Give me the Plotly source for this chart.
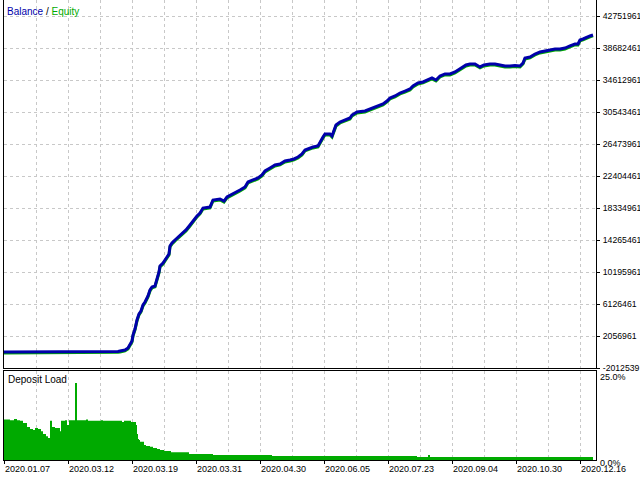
import plotly.graph_objects as go

# ---- data (deal index along the tester's x axis) ----
deal_index = [0, 56, 96, 114, 116, 121, 124, 126, 128, 129,
              131, 133, 135, 137, 139, 141, 144, 146, 148, 151,
              153, 155, 156, 159, 163, 165, 166, 168, 171, 173,
              176, 180, 182, 186, 189, 193, 196, 199, 206, 209,
              216, 220, 223, 229, 236, 241, 244, 249, 254, 258,
              261, 266, 271, 276, 281, 286, 290, 294, 298, 301,
              306, 309, 314, 316, 319, 321, 326, 328, 330, 332,
              336, 341, 346, 348, 353, 361, 368, 374, 379, 383,
              386, 391, 396, 401, 406, 409, 414, 419, 424, 428,
              432, 436, 441, 446, 451, 454, 458, 462, 466, 471,
              476, 480, 486, 491, 496, 501, 506, 511, 516, 519,
              521, 526, 531, 536, 541, 546, 551, 556, 561, 566,
              571, 574, 576, 579, 583, 586, 589]

# balance in millions
balance_m = [0.01, 0.01, 0.05, 0.10, 0.15, 0.28, 0.53, 0.91, 1.42, 2.18,
             2.95, 4.09, 4.86, 5.24, 6.00, 6.38, 7.14, 7.91, 8.29, 8.42,
             9.18, 10.20, 10.96, 11.34, 12.10, 12.49, 13.50, 13.88, 14.27, 14.52,
             14.77, 15.28, 15.54, 16.17, 16.68, 17.32, 17.70, 18.33, 18.46, 19.35,
             19.48, 19.22, 19.73, 20.11, 20.62, 21.01, 21.64, 21.90, 22.15, 22.53,
             23.04, 23.42, 23.80, 23.93, 24.31, 24.44, 24.57, 24.82, 25.20, 25.71,
             25.97, 26.09, 26.22, 26.73, 27.36, 27.75, 27.75, 27.49, 28.13, 28.89,
             29.27, 29.53, 29.78, 30.16, 30.54, 30.67, 31.05, 31.31, 31.56, 31.94,
             32.32, 32.58, 32.96, 33.21, 33.47, 33.85, 34.23, 34.36, 34.61, 34.87,
             34.61, 35.12, 35.38, 35.38, 35.63, 35.88, 36.14, 36.52, 36.65, 36.65,
             36.27, 36.52, 36.65, 36.65, 36.52, 36.39, 36.39, 36.46, 36.39, 36.77,
             37.41, 37.54, 37.92, 38.17, 38.30, 38.43, 38.55, 38.55, 38.68, 38.94,
             39.19, 39.19, 39.70, 39.83, 40.08, 40.21, 40.34]

# equity in millions
equity_m = [-0.11, -0.11, -0.07, -0.02, 0.03, 0.16, 0.41, 0.79, 1.30, 2.06,
            2.83, 3.97, 4.74, 5.12, 5.88, 6.26, 7.02, 7.79, 8.17, 8.30,
            9.06, 10.08, 10.84, 11.22, 11.98, 12.37, 13.38, 13.76, 14.15, 14.40,
            14.65, 15.16, 15.42, 16.05, 16.56, 17.20, 17.58, 18.21, 18.34, 19.23,
            19.36, 19.10, 19.61, 19.99, 20.50, 20.89, 21.52, 21.78, 22.03, 22.41,
            22.92, 23.30, 23.68, 23.81, 24.19, 24.32, 24.45, 24.70, 25.08, 25.59,
            25.85, 25.97, 26.10, 26.61, 27.24, 27.63, 27.63, 27.37, 28.01, 28.77,
            29.15, 29.41, 29.66, 30.04, 30.42, 30.55, 30.93, 31.19, 31.44, 31.82,
            32.20, 32.46, 32.84, 33.09, 33.35, 33.73, 34.11, 34.24, 34.49, 34.75,
            34.49, 35.00, 35.26, 35.26, 35.51, 35.76, 36.02, 36.40, 36.53, 36.53,
            36.15, 36.40, 36.53, 36.53, 36.40, 36.27, 36.27, 36.34, 36.27, 36.65,
            37.29, 37.42, 37.80, 38.05, 38.18, 38.31, 38.43, 38.43, 38.56, 38.82,
            39.07, 39.07, 39.58, 39.71, 39.96, 40.09, 40.22]

load_index = [0, 6, 10, 13, 16, 19, 23, 26, 29, 31,
              34, 37, 39, 42, 44, 46, 48, 51, 56, 57,
              61, 63, 65, 71, 73, 82, 84, 97, 99, 118,
              120, 127, 132, 133, 134, 135, 136, 140, 142, 146,
              149, 153, 156, 160, 167, 185, 209, 268, 413, 424,
              426, 589]
deposit_load = [11.4, 11.2, 11.5, 11.2, 11.0, 10.4, 9.3, 8.7, 8.4, 9.0,
                8.7, 8.1, 7.3, 6.7, 6.2, 11.0, 9.3, 9.0, 8.1, 11.0,
                11.2, 9.8, 11.2, 21.6, 11.2, 11.4, 11.0, 11.2, 11.0, 10.7,
                11.0, 10.7, 9.8, 7.3, 5.9, 5.6, 5.1, 4.2, 3.9, 3.7,
                3.4, 3.1, 2.8, 2.5, 2.2, 1.7, 1.4, 1.1, 0.84, 1.4,
                0.84, 0.84]

balance_ticks = [-2012539, 2056961, 6126461, 10195961, 14265461, 18334961,
                 22404461, 26473961, 30543461, 34612961, 38682461, 42751961]
date_tick_pos = [0, 64, 128, 192, 256, 320, 384, 448, 512, 576]
date_labels = ["2020.01.07", "2020.03.12", "2020.03.19", "2020.03.31", "2020.04.30",
               "2020.06.05", "2020.07.23", "2020.09.04", "2020.10.30", "2020.12.16"]

FONT = "Liberation Sans"
GRID = "#c8c8c8"
BLUE = "#0000aa"
GREEN = "#00aa00"

fig = go.Figure()
fig.add_trace(go.Scatter(x=deal_index, y=equity_m, mode="lines",
                         line=dict(color=GREEN, width=3), xaxis="x", yaxis="y",
                         hoverinfo="skip"))
fig.add_trace(go.Scatter(x=deal_index, y=balance_m, mode="lines",
                         line=dict(color=BLUE, width=3), xaxis="x", yaxis="y",
                         hoverinfo="skip"))
fig.add_trace(go.Scatter(x=load_index, y=deposit_load, mode="lines",
                         line=dict(color=GREEN, width=0, shape="hv"),
                         fill="tozeroy", fillcolor=GREEN, xaxis="x2", yaxis="y2",
                         hoverinfo="skip"))

top_m = (balance_ticks[-1] + (balance_ticks[-1] - balance_ticks[-2]) * 0.5) / 1e6

fig.update_layout(
    width=640, height=480,
    margin=dict(l=4, r=44, t=0, b=20, autoexpand=False),
    paper_bgcolor="white", plot_bgcolor="white",
    showlegend=False,
    font=dict(family=FONT, size=10, color="black"),
    xaxis=dict(domain=[0, 1], range=[0, 592], anchor="y", automargin=False,
               tick0=0, dtick=32, showticklabels=False, ticks="",
               showgrid=True, gridcolor=GRID, griddash="3px,3px", gridwidth=1,
               showline=True, linecolor="black", linewidth=1, mirror=True,
               zeroline=False),
    yaxis=dict(domain=[0.2, 1], range=[balance_ticks[0] / 1e6, top_m], anchor="x",
               side="right", automargin=False,
               tickvals=[t / 1e6 for t in balance_ticks],
               ticktext=[str(t) for t in balance_ticks],
               ticks="outside", ticklen=3, tickcolor="black",
               ticklabelstandoff=1,
               tickfont=dict(family=FONT, size=8.7, color="black"),
               showgrid=True, gridcolor=GRID, griddash="3px,3px", gridwidth=1,
               showline=True, linecolor="black", linewidth=1, mirror=True,
               zeroline=False),
    xaxis2=dict(domain=[0, 1], range=[0, 592], anchor="y2", automargin=False,
                tickvals=date_tick_pos, ticktext=date_labels,
                ticks="outside", ticklen=3, tickcolor="black",
                ticklabelposition="outside right",
                tickfont=dict(family=FONT, size=9, color="black"),
                showgrid=True, gridcolor=GRID, griddash="3px,3px", gridwidth=1,
                minor=dict(tick0=0, dtick=32, showgrid=True, gridcolor=GRID,
                           griddash="3px,3px", gridwidth=1),
                showline=True, linecolor="black", linewidth=1, mirror=True,
                zeroline=False),
    yaxis2=dict(domain=[0, 89 / 460], range=[0, 25], anchor="x2", side="right",
                automargin=False,
                showticklabels=False, ticks="", showgrid=False,
                showline=True, linecolor="black", linewidth=1, mirror=True,
                zeroline=False),
    annotations=[
        dict(text="<span style='color:%s'>Balance</span> / <span style='color:%s'>Equity</span>" % (BLUE, GREEN),
             xref="paper", yref="paper", x=0.002, y=(460 - 12) / 460,
             xanchor="left", yanchor="middle", showarrow=False,
             font=dict(family=FONT, size=10, color="black")),
        dict(text="Deposit Load", xref="paper", yref="paper", x=0.003, y=(460 - 379) / 460,
             xanchor="left", yanchor="middle", showarrow=False,
             font=dict(family=FONT, size=10, color="black")),
        dict(text="25.0%", xref="paper", yref="paper", x=1, xshift=2, y=(460 - 377) / 460,
             xanchor="left", yanchor="middle", showarrow=False,
             font=dict(family=FONT, size=9, color="black")),
        dict(text="0.0%", xref="paper", yref="paper", x=1, xshift=2, y=(460 - 463) / 460,
             xanchor="left", yanchor="middle", showarrow=False,
             font=dict(family=FONT, size=9, color="black")),
    ],
)

fig.write_html("out.html", config={"displayModeBar": False, "staticPlot": True},
               post_script="document.body.style.margin='0';")
